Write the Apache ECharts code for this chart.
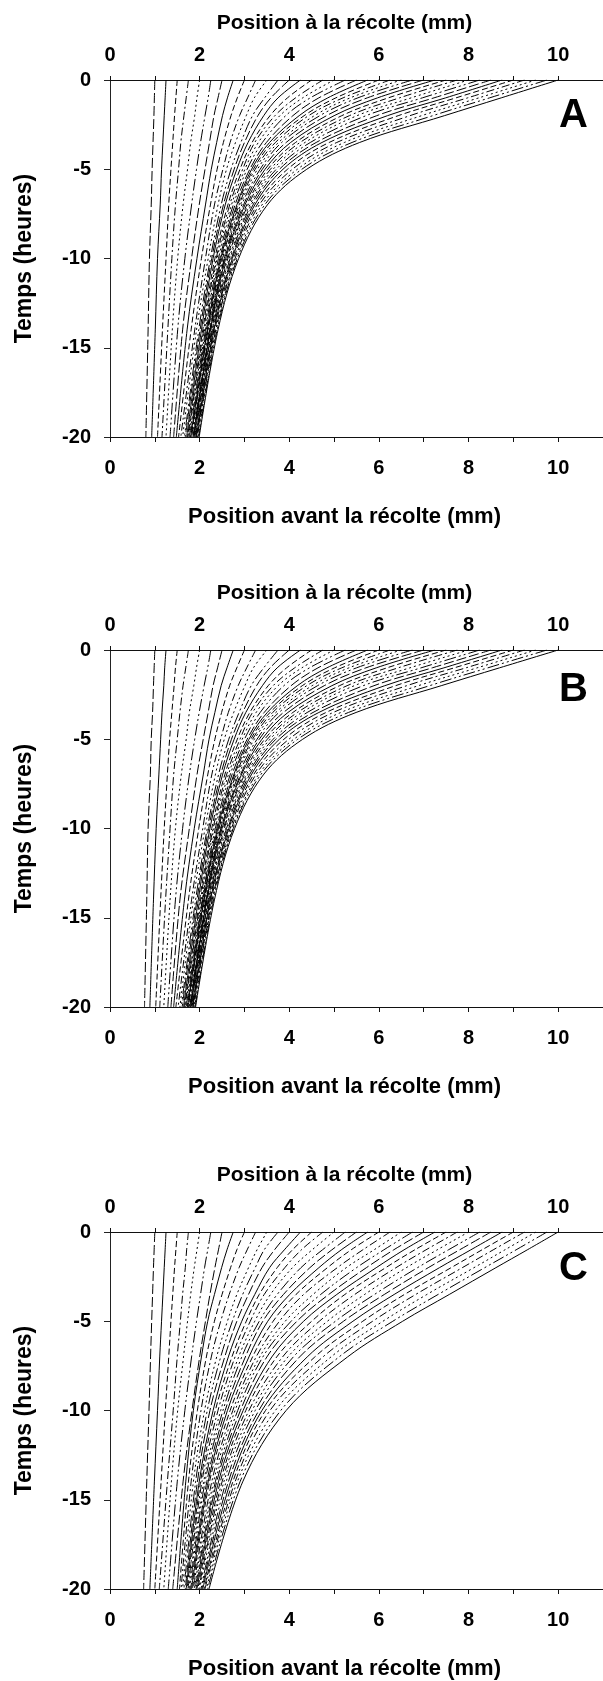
<!DOCTYPE html>
<html><head><meta charset="utf-8">
<script src="https://cdn.jsdelivr.net/npm/echarts@6/dist/echarts.min.js"></script>
<style>html,body{margin:0;padding:0;background:#fff}#c{width:603px;height:1681px}</style>
</head><body><div id="c"></div>
<script>
// Time (hours before harvest) at which each trajectory position is given
const timeLevels = [0, -1, -2, -3.5, -5, -7, -10, -14, -20];
const xTickLabels = [0, 2, 4, 6, 8, 10];
const yTickLabels = [0, -5, -10, -15, -20];
const panelLetters = ['A', 'B', 'C'];
const topTitle = 'Position à la récolte (mm)';
const bottomTitle = 'Position avant la récolte (mm)';
const yTitle = 'Temps (heures)';

// Panel A: position (mm) of each trajectory at the times above
const panelA = [
 [1.00,0.99,0.98,0.96,0.94,0.92,0.88,0.85,0.80],
 [1.25,1.23,1.21,1.18,1.15,1.12,1.06,1.01,0.93],
 [1.50,1.47,1.44,1.40,1.36,1.31,1.25,1.17,1.06],
 [1.75,1.70,1.65,1.58,1.53,1.46,1.38,1.29,1.16],
 [2.00,1.94,1.89,1.80,1.73,1.63,1.51,1.39,1.25],
 [2.25,2.19,2.12,2.02,1.93,1.82,1.67,1.51,1.34],
 [2.50,2.41,2.32,2.22,2.12,1.99,1.82,1.62,1.42],
 [2.75,2.62,2.51,2.38,2.26,2.13,1.94,1.72,1.48],
 [3.00,2.84,2.70,2.53,2.39,2.24,2.04,1.81,1.53],
 [3.25,3.07,2.89,2.68,2.52,2.33,2.13,1.89,1.58],
 [3.50,3.22,3.04,2.80,2.60,2.41,2.19,1.93,1.62],
 [3.75,3.45,3.18,2.92,2.70,2.48,2.24,1.98,1.66],
 [4.00,3.59,3.30,3.00,2.77,2.53,2.27,2.01,1.68],
 [4.25,3.75,3.43,3.08,2.83,2.57,2.30,2.04,1.71],
 [4.50,3.96,3.57,3.17,2.90,2.63,2.34,2.07,1.73],
 [4.75,4.14,3.68,3.23,2.96,2.67,2.37,2.09,1.74],
 [5.00,4.30,3.79,3.31,3.01,2.71,2.39,2.11,1.75],
 [5.25,4.47,3.92,3.40,3.06,2.75,2.42,2.13,1.77],
 [5.50,4.66,4.08,3.49,3.12,2.79,2.45,2.15,1.79],
 [5.75,4.86,4.22,3.56,3.16,2.83,2.47,2.17,1.80],
 [6.00,5.04,4.33,3.62,3.20,2.85,2.49,2.18,1.81],
 [6.25,5.20,4.43,3.69,3.24,2.88,2.51,2.19,1.82],
 [6.50,5.36,4.56,3.76,3.29,2.91,2.53,2.21,1.84],
 [6.75,5.53,4.68,3.83,3.35,2.94,2.55,2.22,1.85],
 [7.00,5.74,4.83,3.93,3.40,2.98,2.56,2.23,1.86],
 [7.25,5.97,5.00,4.03,3.46,3.01,2.58,2.24,1.87],
 [7.50,6.21,5.17,4.14,3.52,3.05,2.61,2.25,1.88],
 [7.75,6.46,5.34,4.24,3.58,3.08,2.63,2.27,1.89],
 [8.00,6.72,5.51,4.35,3.64,3.12,2.66,2.28,1.90],
 [8.25,6.97,5.71,4.47,3.71,3.15,2.68,2.29,1.91],
 [8.50,7.23,5.95,4.60,3.78,3.19,2.71,2.31,1.92],
 [8.75,7.49,6.19,4.73,3.86,3.23,2.73,2.32,1.93],
 [9.00,7.72,6.43,4.89,3.96,3.28,2.76,2.34,1.94],
 [9.25,7.98,6.69,5.06,4.07,3.33,2.79,2.36,1.95],
 [9.50,8.23,6.95,5.23,4.18,3.39,2.82,2.37,1.97],
 [9.75,8.47,7.20,5.40,4.28,3.45,2.84,2.39,1.98],
 [10.00,8.73,7.46,5.57,4.39,3.51,2.87,2.41,1.99]
];

// Panel B
const panelB = [
 [1.00,0.985,0.97,0.95,0.92,0.90,0.85,0.82,0.77],
 [1.25,1.22,1.20,1.16,1.13,1.09,1.03,0.97,0.89],
 [1.50,1.46,1.43,1.38,1.33,1.28,1.21,1.13,1.02],
 [1.75,1.69,1.63,1.56,1.50,1.42,1.34,1.24,1.11],
 [2.00,1.93,1.87,1.77,1.70,1.59,1.46,1.34,1.20],
 [2.25,2.18,2.10,1.99,1.89,1.77,1.62,1.46,1.29],
 [2.50,2.40,2.30,2.19,2.08,1.94,1.77,1.56,1.36],
 [2.75,2.61,2.48,2.34,2.21,2.08,1.88,1.66,1.42],
 [3.00,2.83,2.67,2.49,2.34,2.18,1.98,1.75,1.47],
 [3.25,3.05,2.86,2.64,2.47,2.27,2.07,1.82,1.52],
 [3.50,3.20,3.01,2.76,2.55,2.35,2.12,1.86,1.56],
 [3.75,3.43,3.15,2.88,2.65,2.42,2.17,1.91,1.59],
 [4.00,3.57,3.27,2.96,2.71,2.47,2.20,1.94,1.61],
 [4.25,3.73,3.40,3.03,2.77,2.51,2.23,1.97,1.64],
 [4.50,3.94,3.53,3.12,2.84,2.56,2.27,2.00,1.66],
 [4.75,4.12,3.64,3.18,2.90,2.60,2.30,2.02,1.67],
 [5.00,4.28,3.75,3.26,2.95,2.64,2.32,2.04,1.68],
 [5.25,4.45,3.88,3.35,3.00,2.68,2.35,2.06,1.70],
 [5.50,4.64,4.04,3.44,3.06,2.72,2.38,2.07,1.72],
 [5.75,4.84,4.18,3.51,3.10,2.76,2.40,2.09,1.73],
 [6.00,5.01,4.29,3.57,3.14,2.78,2.42,2.10,1.74],
 [6.25,5.17,4.39,3.63,3.18,2.81,2.43,2.11,1.75],
 [6.50,5.33,4.51,3.70,3.22,2.84,2.45,2.13,1.77],
 [6.75,5.50,4.63,3.77,3.28,2.87,2.47,2.14,1.78],
 [7.00,5.71,4.78,3.87,3.33,2.91,2.48,2.15,1.79],
 [7.25,5.94,4.95,3.97,3.39,2.93,2.50,2.16,1.80],
 [7.50,6.18,5.12,4.08,3.45,2.97,2.53,2.17,1.80],
 [7.75,6.43,5.29,4.18,3.51,3.00,2.55,2.19,1.81],
 [8.00,6.69,5.45,4.28,3.57,3.04,2.58,2.20,1.82],
 [8.25,6.94,5.65,4.40,3.64,3.07,2.60,2.21,1.83],
 [8.50,7.19,5.89,4.53,3.70,3.11,2.63,2.23,1.84],
 [8.75,7.45,6.13,4.66,3.78,3.15,2.65,2.24,1.85],
 [9.00,7.68,6.37,4.82,3.88,3.20,2.68,2.26,1.86],
 [9.25,7.94,6.62,4.98,3.99,3.25,2.71,2.28,1.87],
 [9.50,8.19,6.88,5.15,4.10,3.31,2.74,2.29,1.89],
 [9.75,8.43,7.13,5.32,4.19,3.36,2.75,2.31,1.90],
 [10.00,8.69,7.39,5.49,4.30,3.42,2.78,2.33,1.91]
];

// Panel C
const panelC = [
 [1.00,0.985,0.97,0.95,0.93,0.905,0.87,0.82,0.75],
 [1.25,1.23,1.21,1.18,1.15,1.11,1.06,0.99,0.89],
 [1.50,1.47,1.44,1.40,1.36,1.31,1.235,1.14,1.00],
 [1.75,1.71,1.68,1.62,1.57,1.50,1.41,1.28,1.10],
 [2.00,1.94,1.88,1.80,1.73,1.64,1.51,1.37,1.20],
 [2.25,2.18,2.11,2.02,1.93,1.82,1.67,1.50,1.30],
 [2.50,2.42,2.34,2.23,2.13,2.00,1.83,1.63,1.40],
 [2.75,2.61,2.49,2.33,2.18,2.04,1.86,1.69,1.50],
 [3.00,2.83,2.69,2.50,2.33,2.15,1.95,1.75,1.55],
 [3.25,3.06,2.88,2.66,2.47,2.26,2.03,1.81,1.585],
 [3.50,3.28,3.09,2.83,2.62,2.38,2.11,1.86,1.62],
 [3.75,3.44,3.24,2.96,2.73,2.47,2.17,1.91,1.65],
 [4.00,3.67,3.39,3.09,2.83,2.56,2.23,1.95,1.68],
 [4.25,3.89,3.56,3.23,2.94,2.64,2.30,1.99,1.70],
 [4.50,4.07,3.73,3.33,3.04,2.72,2.35,2.02,1.72],
 [4.75,4.27,3.90,3.44,3.13,2.79,2.41,2.05,1.74],
 [5.00,4.51,4.07,3.58,3.23,2.87,2.47,2.09,1.76],
 [5.25,4.74,4.26,3.73,3.33,2.94,2.52,2.12,1.78],
 [5.50,4.95,4.46,3.87,3.41,3.02,2.57,2.16,1.80],
 [5.75,5.16,4.66,4.01,3.52,3.10,2.62,2.19,1.82],
 [6.00,5.38,4.85,4.15,3.64,3.18,2.68,2.22,1.84],
 [6.25,5.64,5.07,4.32,3.78,3.26,2.74,2.27,1.86],
 [6.50,5.89,5.27,4.53,3.91,3.34,2.79,2.31,1.88],
 [6.75,6.11,5.50,4.70,4.04,3.41,2.85,2.35,1.90],
 [7.00,6.33,5.72,4.88,4.17,3.50,2.91,2.38,1.92],
 [7.25,6.56,5.94,5.06,4.32,3.61,2.97,2.42,1.94],
 [7.50,6.80,6.15,5.24,4.50,3.72,3.03,2.46,1.96],
 [7.75,7.05,6.38,5.46,4.67,3.85,3.10,2.50,1.98],
 [8.00,7.30,6.61,5.68,4.85,3.97,3.17,2.54,2.00],
 [8.25,7.55,6.86,5.90,5.03,4.09,3.24,2.59,2.03],
 [8.50,7.80,7.10,6.12,5.21,4.23,3.32,2.64,2.05],
 [8.75,8.05,7.35,6.34,5.42,4.40,3.39,2.69,2.07],
 [9.00,8.30,7.61,6.57,5.64,4.57,3.47,2.74,2.10],
 [9.25,8.55,7.86,6.82,5.86,4.75,3.57,2.79,2.12],
 [9.50,8.81,8.12,7.07,6.09,4.93,3.69,2.84,2.15],
 [9.75,9.06,8.36,7.32,6.31,5.11,3.81,2.90,2.18],
 [10.00,9.31,8.61,7.57,6.53,5.30,3.93,2.96,2.21]
];

// ---------- layout & style (not data) ----------
const FONT = '"Liberation Sans", Arial, sans-serif';
const gridTops = [80, 650, 1232];
const letterTops = [96, 670, 1249];
const GRID_LEFT = 110, GRID_WIDTH = 496.6, GRID_HEIGHT = 357;
const dashCycle = [[10, 3], 'solid', [6, 3], [8, 3, 2, 3], [2, 3], [12, 3, 2, 3, 2, 3]];

const panels = [panelA, panelB, panelC];
const grid = [], xAxis = [], yAxis = [], series = [], graphic = [];

function textStyle(size) {
  return { fontFamily: FONT, fontWeight: 'bold', fontSize: size, color: '#000' };
}

panels.forEach((lines, p) => {
  grid.push({ left: GRID_LEFT, top: gridTops[p], width: GRID_WIDTH, height: GRID_HEIGHT, containLabel: false });
  ['bottom', 'top'].forEach(pos => {
    xAxis.push({
      type: 'value', gridIndex: p, position: pos, min: 0, max: 11, interval: 1,
      name: pos === 'bottom' ? bottomTitle : topTitle,
      nameLocation: 'middle', nameGap: pos === 'bottom' ? 69 : 46,
      nameTextStyle: Object.assign(textStyle(pos === 'bottom' ? 22 : 21), { padding: [0, 24, 0, 0] }),
      axisLine: { show: true, onZero: false, lineStyle: { color: '#111', width: 1 } },
      axisTick: { show: true, inside: false, length: pos === 'bottom' ? 5 : 4, lineStyle: { color: '#111', width: 1 } },
      axisLabel: Object.assign(textStyle(20), {
        show: true, margin: pos === 'bottom' ? 21 : 15, showMaxLabel: false,
        formatter: v => (xTickLabels.indexOf(v) >= 0 ? String(v) : '')
      }),
      splitLine: { show: false }
    });
  });
  yAxis.push({
    type: 'value', gridIndex: p, min: -20, max: 0, interval: 5,
    name: yTitle, nameLocation: 'middle', nameGap: 74, nameRotate: 90,
    nameTextStyle: textStyle(23),
    axisLine: { show: true, onZero: false, lineStyle: { color: '#222', width: 1 } },
    axisTick: { show: true, inside: false, length: 6, lineStyle: { color: '#222', width: 1 } },
    axisLabel: Object.assign(textStyle(20), {
      margin: 19, formatter: v => (yTickLabels.indexOf(v) >= 0 ? String(v) : '')
    }),
    splitLine: { show: false }
  });
  lines.forEach((xs, k) => {
    const type = (k === lines.length - 1) ? 'solid' : dashCycle[k % dashCycle.length];
    series.push({
      type: 'line', xAxisIndex: 2 * p, yAxisIndex: p,
      data: xs.map((x, j) => [x, timeLevels[j]]),
      showSymbol: false, symbol: 'none', smooth: 0.35, silent: true,
      lineStyle: { color: '#000', width: 1, type: type }
    });
  });
  graphic.push({
    type: 'text', left: 559, top: letterTops[p],
    style: { text: panelLetters[p], fontFamily: FONT, fontWeight: 'bold', fontSize: 40, fill: '#000' }
  });
});

const chart = echarts.init(document.getElementById('c'), null, { renderer: 'canvas' });
chart.setOption({
  animation: false, backgroundColor: '#fff',
  grid, xAxis, yAxis, series, graphic
});
</script></body></html>
